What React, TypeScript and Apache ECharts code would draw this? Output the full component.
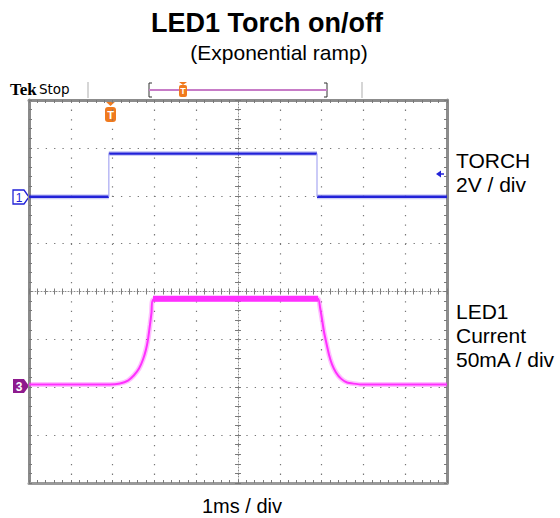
import React, { useEffect, useRef } from "react";
import * as echarts from "echarts";

// Time axis in ms (1 ms / div, centred on trigger), vertical in divisions
const torchTime = [-5, -3.09, -3.09, 1.89, 1.89, 5];
const torchLevel = [1.98, 1.98, 2.88, 2.88, 1.98, 1.98];

const currentTime = [-5, -3.062, -2.823, -2.632, -2.488, -2.368, -2.273, -2.201, -2.153, -2.105, -2.069, -2.033,
  1.914, 1.962, 2.01, 2.057, 2.105, 2.177, 2.249, 2.344, 2.464, 2.608, 2.919, 5];
const currentLevel = [-1.94, -1.94, -1.92, -1.86, -1.75, -1.61, -1.42, -1.21, -1.0, -0.69, -0.44, -0.17,
  -0.15, -0.33, -0.58, -0.84, -1.04, -1.32, -1.52, -1.69, -1.82, -1.9, -1.94, -1.94];
const plateauIdx = [11, 12];

const xTicks = [-5, 5];
const yTicks = [-4, 4];

const FONT = "Liberation Sans, Arial, sans-serif";
const BLUE = "#2222d8";
const MAGENTA = "#ff30ff";

export default function App() {
  const ref = useRef<HTMLDivElement>(null);
  useEffect(() => {
    if (!ref.current) return;
    const chart = echarts.init(ref.current, undefined, { renderer: "svg" });

    const pts = (t: number[], v: number[], idx: number[]) => idx.map((i) => [t[i], v[i]]);
    const torchFlat = [
      pts(torchTime, torchLevel, [0, 1]),
      pts(torchTime, torchLevel, [2, 3]),
      pts(torchTime, torchLevel, [4, 5]),
    ];
    const torchEdges = [pts(torchTime, torchLevel, [1, 2]), pts(torchTime, torchLevel, [3, 4])];
    const currentAll = currentTime.map((t, i) => [t, currentLevel[i]]);
    const plateau = pts(currentTime, currentLevel, plateauIdx).map((p) => [p[0], -0.15]);

    const base = { type: "line", xAxisIndex: 0, yAxisIndex: 0, symbol: "none", silent: true };
    const series: any[] = [];
    torchFlat.forEach((d) => {
      series.push({ ...base, data: d, lineStyle: { color: BLUE, width: 5, opacity: 0.22 } });
      series.push({ ...base, data: d, lineStyle: { color: BLUE, width: 2.4 } });
    });
    torchEdges.forEach((d) => series.push({ ...base, data: d, lineStyle: { color: "#a8a8f2", width: 1.2 } }));
    series.push({ ...base, data: currentAll, smooth: 0.15, lineStyle: { color: MAGENTA, width: 5, opacity: 0.3 } });
    series.push({ ...base, data: currentAll, smooth: 0.15, lineStyle: { color: MAGENTA, width: 2 } });
    series.push({ ...base, data: plateau, lineStyle: { color: MAGENTA, width: 6 } });

    const hid = { axisLabel: { show: false }, splitLine: { show: false } };
    const tickAxisX = (position: string, offset: number, line: boolean, lineType: any, lineWidth: number) => ({
      type: "value", min: xTicks[0], max: xTicks[1], interval: 0.2, position, offset,
      axisLine: { show: line, onZero: false, lineStyle: { color: "#8c8c8c", width: lineWidth, type: lineType } },
      axisTick: { show: true, inside: true, length: 3, lineStyle: { color: "#7a7a7a" } },
      ...hid,
    });
    const tickAxisY = (position: string, offset: number, line: boolean, lineType: any, lineWidth: number) => ({
      type: "value", min: yTicks[0], max: yTicks[1], interval: 0.2, position, offset,
      axisLine: { show: line, onZero: false, lineStyle: { color: "#8c8c8c", width: lineWidth, type: lineType } },
      axisTick: { show: true, inside: true, length: 3, lineStyle: { color: "#7a7a7a" } },
      ...hid,
    });

    const rightLabel = (text: string, y: number) => ({
      type: "text", x: 456, y, style: { text, fontFamily: FONT, fontSize: 21, fill: "#000", verticalAlign: "middle" },
    });

    const option: any = {
      animation: false,
      title: [
        {
          text: "LED1 Torch on/off", left: 262, top: 4, textAlign: "center",
          textStyle: { fontFamily: FONT, fontSize: 27, fontWeight: "bold", color: "#000" },
        },
        {
          text: "(Exponential ramp)", left: 274, top: 37, textAlign: "center",
          textStyle: { fontFamily: FONT, fontSize: 21, fontWeight: "normal", color: "#000" },
        },
      ],
      grid: { left: 29, top: 100, width: 418, height: 383 },
      xAxis: [
        {
          type: "value", min: xTicks[0], max: xTicks[1], interval: 1, position: "bottom",
          axisLine: { show: true, onZero: false, lineStyle: { color: "#9a9a9a", width: 3 } },
          axisTick: { show: false }, axisLabel: { show: false },
          splitLine: { show: true, lineStyle: { color: "#777", width: 1.2, type: [1.3, 8.28] } },
        },
        tickAxisX("bottom", 0, false, "solid", 1),
        tickAxisX("top", 0, true, "solid", 3),
        tickAxisX("bottom", -191.5, true, [1, 2], 1),
        tickAxisX("top", -191.5, false, "solid", 1),
      ],
      yAxis: [
        {
          type: "value", min: yTicks[0], max: yTicks[1], interval: 1, position: "left",
          axisLine: { show: true, onZero: false, lineStyle: { color: "#8a8a8a", width: 3 } },
          axisTick: { show: false }, axisLabel: { show: false },
          splitLine: { show: true, lineStyle: { color: "#777", width: 1.2, type: [1.3, 7.06] } },
        },
        tickAxisY("left", 0, false, "solid", 1),
        tickAxisY("right", 0, true, "solid", 3),
        tickAxisY("left", -209, true, [1, 2], 1),
        tickAxisY("right", -209, false, "solid", 1),
      ],
      series,
      graphic: [
        { type: "text", x: 10, y: 89.5, style: { text: "Tek", fontFamily: "Liberation Serif, serif", fontWeight: "bold", fontSize: 17, fill: "#000", verticalAlign: "middle" } },
        { type: "text", x: 39, y: 89, style: { text: "Stop", fontFamily: "DejaVu Sans, sans-serif", fontSize: 13.5, fill: "#000", verticalAlign: "middle" } },
        { type: "line", shape: { x1: 88, y1: 82, x2: 88, y2: 98 }, style: { stroke: "#c8c8c8", lineWidth: 1.5 } },
        { type: "line", shape: { x1: 362, y1: 82, x2: 362, y2: 98 }, style: { stroke: "#c8c8c8", lineWidth: 1.5 } },
        { type: "polyline", shape: { points: [[152, 83], [149, 83], [149, 97], [152, 97]] }, style: { stroke: "#333", lineWidth: 1, fill: null } },
        { type: "polyline", shape: { points: [[324, 83], [327, 83], [327, 97], [324, 97]] }, style: { stroke: "#333", lineWidth: 1, fill: null } },
        { type: "line", shape: { x1: 149, y1: 90, x2: 327, y2: 90 }, style: { stroke: "#c77cc7", lineWidth: 2 } },
        { type: "polygon", shape: { points: [[179, 82], [187, 82], [183, 85]] }, style: { fill: "#f07a1e" } },
        { type: "rect", shape: { x: 179, y: 85, width: 8, height: 12, r: 2 }, style: { fill: "#f07a1e" } },
        { type: "text", x: 183, y: 91, style: { text: "T", fontFamily: FONT, fontSize: 9, fontWeight: "bold", fill: "#fff", align: "center", verticalAlign: "middle" } },
        { type: "polygon", shape: { points: [[105, 101], [116, 101], [110.5, 106]] }, style: { fill: "#f07a1e" } },
        { type: "rect", shape: { x: 105, y: 107, width: 11, height: 15, r: 3 }, style: { fill: "#f07a1e" } },
        { type: "text", x: 110.5, y: 114.5, style: { text: "T", fontFamily: FONT, fontSize: 11, fontWeight: "bold", fill: "#fff", align: "center", verticalAlign: "middle" } },
        { type: "polygon", shape: { points: [[13, 190], [24, 190], [29, 197], [24, 204], [13, 204]] }, style: { fill: "#fff", stroke: BLUE, lineWidth: 1.3 } },
        { type: "text", x: 19, y: 197.5, style: { text: "1", fontFamily: FONT, fontSize: 12, fill: BLUE, align: "center", verticalAlign: "middle" } },
        { type: "polygon", shape: { points: [[13, 379], [24, 379], [29, 386], [24, 393], [13, 393]] }, style: { fill: "#8e1a8e" } },
        { type: "text", x: 19, y: 386.5, style: { text: "3", fontFamily: FONT, fontSize: 12, fontWeight: "bold", fill: "#fff", align: "center", verticalAlign: "middle" } },
        { type: "polygon", shape: { points: [[436, 174], [441, 170.5], [441, 177.5]] }, style: { fill: BLUE } },
        { type: "line", shape: { x1: 440, y1: 174, x2: 444, y2: 174 }, style: { stroke: BLUE, lineWidth: 1.5 } },
        rightLabel("TORCH", 160),
        rightLabel("2V / div", 184),
        rightLabel("LED1", 311),
        rightLabel("Current", 335),
        rightLabel("50mA / div", 359),
        { type: "text", x: 242, y: 506, style: { text: "1ms / div", fontFamily: FONT, fontSize: 20, fill: "#000", align: "center", verticalAlign: "middle" } },
      ],
    };
    chart.setOption(option);
    return () => chart.dispose();
  }, []);
  return <div ref={ref} style={{ position: "fixed", left: 0, top: 0, width: 560, height: 518, background: "#fff" }} />;
}
